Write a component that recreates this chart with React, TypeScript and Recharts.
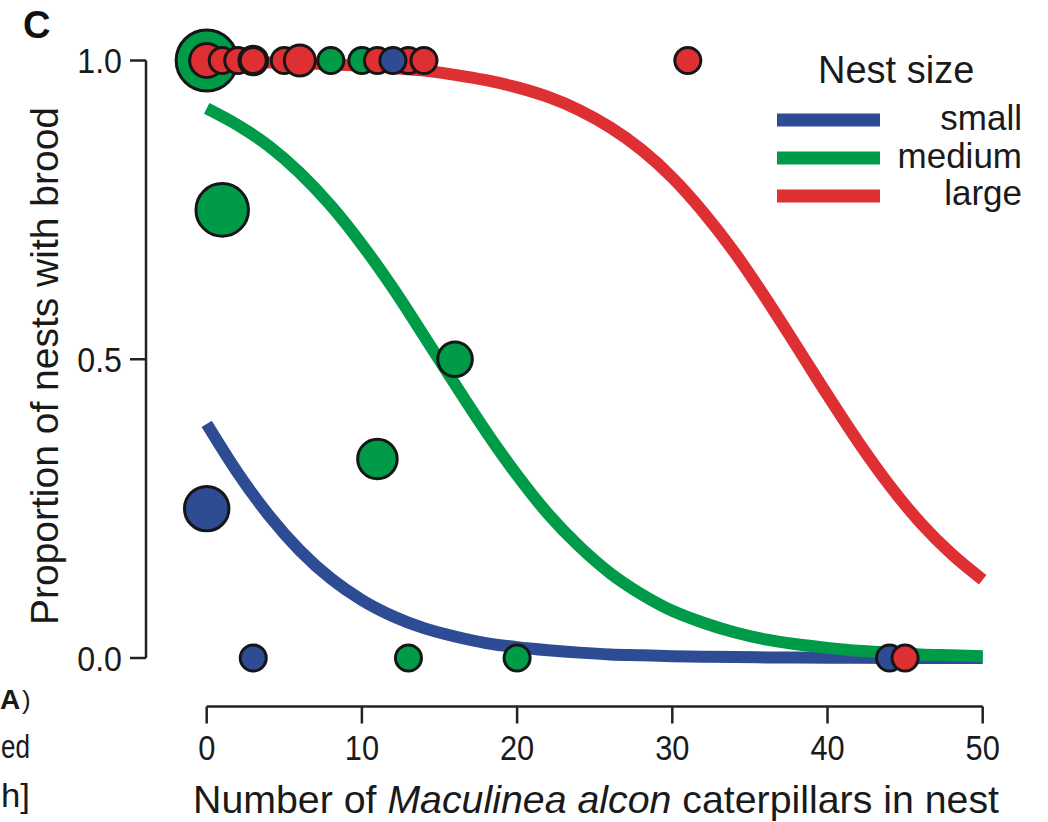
import React from 'react';
import { ComposedChart, Line, Scatter, XAxis, YAxis, ReferenceLine } from 'recharts';

// ---- fitted curves ----
const curveX = [0, 2, 4, 6, 8, 10, 12, 14, 16, 18, 20, 22, 24, 26, 28, 30, 32, 34, 36, 38, 40, 42, 44, 46, 48, 50];
const smallCurve = [0.392, 0.31, 0.239, 0.18, 0.133, 0.097, 0.07, 0.05, 0.036, 0.025, 0.018, 0.013, 0.009, 0.006, 0.0045, 0.003, 0.002, 0.0015, 0.001, 0.0007, 0.0005, 0.0003, 0.0002, 0.00015, 0.0001, 0.00008];
const mediumCurve = [0.92, 0.892, 0.857, 0.812, 0.757, 0.692, 0.619, 0.539, 0.458, 0.379, 0.306, 0.241, 0.187, 0.142, 0.107, 0.079, 0.059, 0.043, 0.031, 0.023, 0.017, 0.012, 0.009, 0.006, 0.0045, 0.003];
const largeCurve = [0.998, 0.9976, 0.9967, 0.9954, 0.9936, 0.991, 0.9876, 0.983, 0.976, 0.967, 0.955, 0.939, 0.917, 0.888, 0.851, 0.804, 0.746, 0.679, 0.603, 0.522, 0.44, 0.361, 0.289, 0.226, 0.174, 0.131];

// ---- observed nests (draw order as in the picture) ----
const pointX = [0, 0, 1, 2, 3, 3, 5, 6, 8, 10, 11, 13, 12, 14, 31, 1, 16, 11, 0, 3, 13, 20, 44, 45];
const pointY = [1, 1, 1, 1, 1, 1, 1, 1, 1, 1, 1, 1, 1, 1, 1, 0.75, 0.5, 0.333, 0.25, 0, 0, 0, 0, 0];
const pointWeight = [2.35, 1.31, 1, 1, 1.1, 1, 1, 1.19, 1, 1, 1, 1, 1, 1, 1, 2.02, 1.33, 1.52, 1.71, 1, 1, 1, 1, 1];
const pointGroup = ['medium', 'large', 'large', 'large', 'large', 'large', 'large', 'large', 'medium', 'medium', 'large', 'large', 'small', 'large', 'large', 'medium', 'medium', 'medium', 'small', 'small', 'medium', 'medium', 'small', 'large'];

const xTicks = [0, 10, 20, 30, 40, 50];
const yTicks = [0, 0.5, 1];
const groups = ['small', 'medium', 'large'];
const legendTitle = 'Nest size';

const groupColors: Record<string, string> = { small: '#2E4C94', medium: '#009B48', large: '#DE2F33' };
const FONT = '"Liberation Sans", Arial, Helvetica, sans-serif';
const AXIS_COLOR = '#222';
const BASE_R = 13;

// domain extended so the detached (R-style) axes sit outside the data region
const X_MIN = -3.911;
const Y_MIN = -0.08117;

const curveData = curveX.map((x, i) => ({ x, small: smallCurve[i], medium: mediumCurve[i], large: largeCurve[i] }));
const pointData = pointX.map((x, i) => ({ x, y: pointY[i], weight: pointWeight[i], group: pointGroup[i] }));

const NestDot = (props: any) => {
  const { cx, cy, payload } = props;
  if (cx == null || cy == null) return null;
  return (
    <circle
      cx={cx}
      cy={cy}
      r={BASE_R * payload.weight}
      fill={groupColors[payload.group]}
      stroke="#161616"
      strokeWidth={3}
    />
  );
};

const XTick = (props: any) => {
  const { x, y, payload } = props;
  return (
    <g transform={`translate(${x},${y})`}>
      <text x={0} y={0} dy="0.71em" textAnchor="middle" fontSize={35} fontFamily={FONT} fill="#1a1a1a" transform="scale(0.88,1)">
        {payload.value}
      </text>
    </g>
  );
};

const YTick = (props: any) => {
  const { x, y, payload } = props;
  return (
    <g transform={`translate(${x},${y})`}>
      <text x={0} y={0} dy="0.36em" textAnchor="end" fontSize={35} fontFamily={FONT} fill="#1a1a1a" transform="scale(0.92,1)">
        {Number(payload.value).toFixed(1)}
      </text>
    </g>
  );
};

export default function App() {
  return (
    <div style={{ position: 'relative', width: 1048, height: 822, background: '#fff', overflow: 'hidden' }}>
      <style>{'body{margin:0;background:#fff}'}</style>
      <ComposedChart
        width={1048}
        height={822}
        data={curveData}
        margin={{ top: 60.5, right: 65.3, left: 0, bottom: 0.5 }}
      >
        <XAxis
          dataKey="x"
          type="number"
          domain={[X_MIN, 50]}
          ticks={xTicks}
          height={115}
          axisLine={false}
          tickLine={{ stroke: AXIS_COLOR, strokeWidth: 2.5 }}
          tickSize={17}
          tickMargin={11.5}
          tick={<XTick />}
          interval={0}
        />
        <YAxis
          dataKey="y"
          type="number"
          domain={[Y_MIN, 1]}
          ticks={yTicks}
          width={146}
          axisLine={false}
          tickLine={{ stroke: AXIS_COLOR, strokeWidth: 2.5 }}
          tickSize={16}
          tickMargin={8}
          tick={<YTick />}
          interval={0}
        />
        <ReferenceLine
          segment={[{ x: 0, y: Y_MIN }, { x: 50, y: Y_MIN }]}
          stroke={AXIS_COLOR}
          strokeWidth={2.5}
          ifOverflow="visible"
        />
        <ReferenceLine
          segment={[{ x: X_MIN, y: 0 }, { x: X_MIN, y: 1 }]}
          stroke={AXIS_COLOR}
          strokeWidth={2.5}
          ifOverflow="visible"
        />
        {groups.map((g) => (
          <Line
            key={g}
            dataKey={g}
            type="monotone"
            stroke={groupColors[g]}
            strokeWidth={12}
            dot={false}
            activeDot={false}
            isAnimationActive={false}
          />
        ))}
        <Scatter data={pointData} shape={<NestDot />} isAnimationActive={false} />
      </ComposedChart>

      <svg width={1048} height={822} style={{ position: 'absolute', left: 0, top: 0, pointerEvents: 'none' }}>
        <text x={23} y={38} fontSize={38} fontWeight="bold" fontFamily={FONT} fill="#111">C</text>
        {/* fragments of the neighbouring panel at the left edge */}
        <text x={0} y={709} fontSize={28} fontWeight="bold" fontFamily={FONT} fill="#1a1a1a">A</text>
        <text x={22} y={709} fontSize={26} fontFamily={FONT} fill="#1a1a1a">)</text>
        <text x={1} y={758} fontSize={34} fontFamily={FONT} fill="#1a1a1a" textLength={29} lengthAdjust="spacingAndGlyphs">ed</text>
        <text x={1} y={807} fontSize={34} fontFamily={FONT} fill="#1a1a1a" textLength={29} lengthAdjust="spacingAndGlyphs">h]</text>
        <text
          x={58}
          y={366}
          transform="rotate(-90 58 366)"
          textAnchor="middle"
          fontSize={39}
          fontFamily={FONT}
          fill="#1a1a1a"
        >
          Proportion of nests with brood
        </text>
        <text x={596} y={813} textAnchor="middle" fontSize={39.3} fontFamily={FONT} fill="#1a1a1a">
          Number of <tspan fontStyle="italic">Maculinea alcon</tspan> caterpillars in nest
        </text>
        <text x={818} y={83} fontSize={38} fontFamily={FONT} fill="#1a1a1a">{legendTitle}</text>
        {groups.map((g, i) => (
          <g key={g}>
            <line x1={777} x2={880} y1={120 + i * 38} y2={120 + i * 38} stroke={groupColors[g]} strokeWidth={13} />
            <text x={1022} y={130 + i * 37.5} textAnchor="end" fontSize={35} fontFamily={FONT} fill="#1a1a1a">{g}</text>
          </g>
        ))}
      </svg>
    </div>
  );
}
